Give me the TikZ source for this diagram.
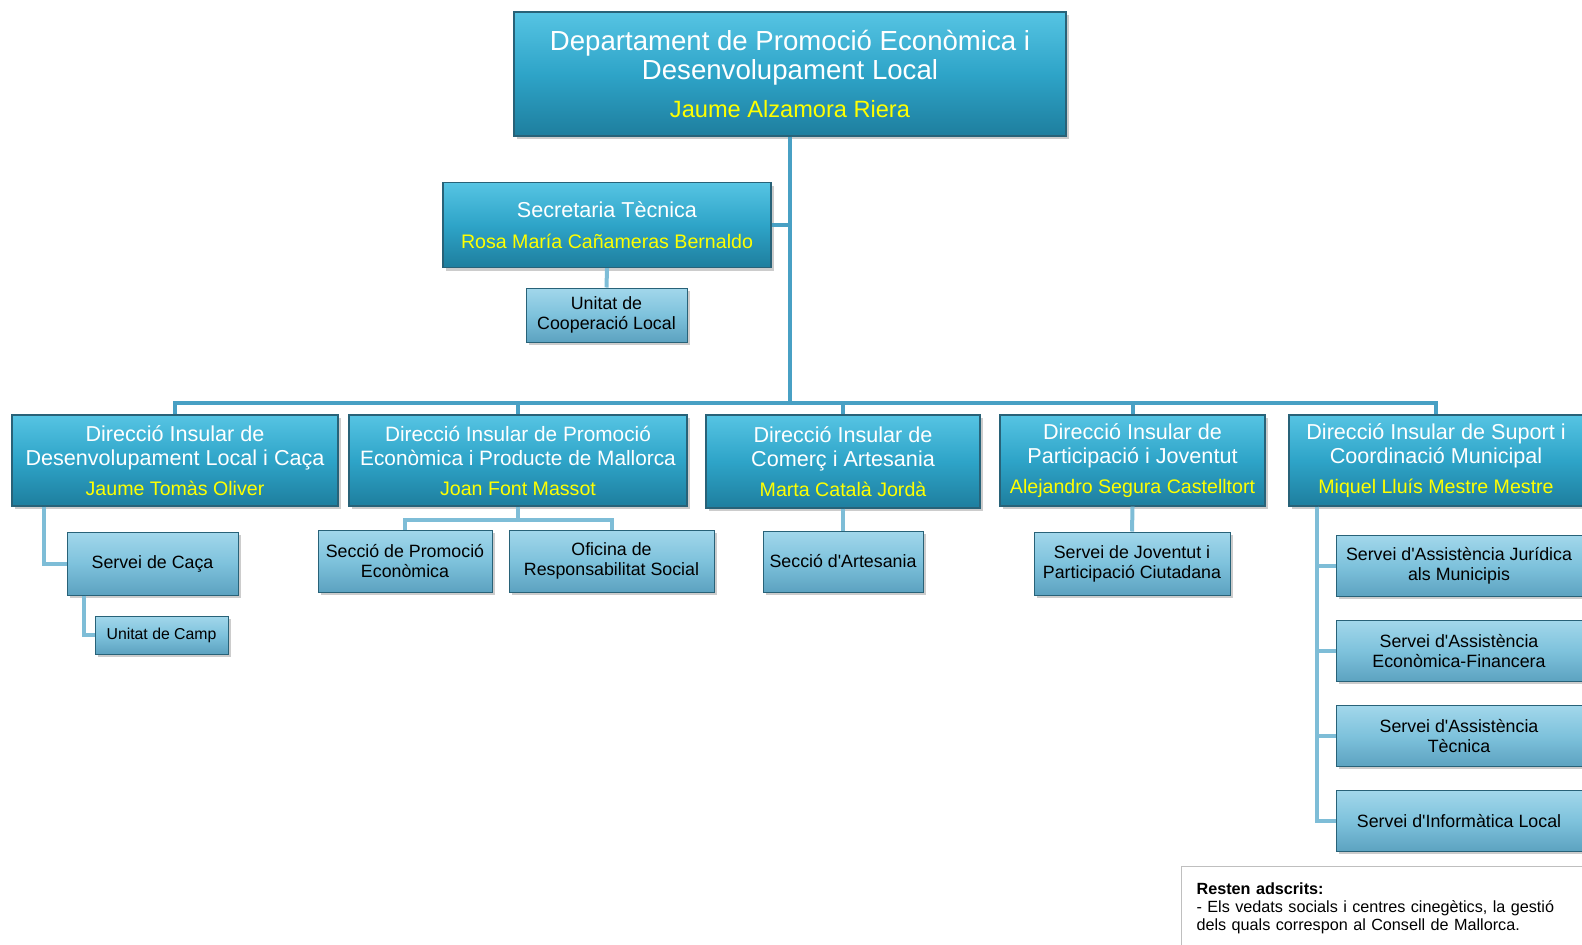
\documentclass[tikz,border=0pt]{standalone}
\usepackage{fontspec}
\setmainfont{Liberation Sans}
\usetikzlibrary{calc,shadows}
\definecolor{captop}{RGB}{86,196,227}
\definecolor{capmid}{RGB}{46,164,200}
\definecolor{capbot}{RGB}{30,126,158}
\definecolor{capvora}{RGB}{40,98,120}
\definecolor{subtop}{RGB}{162,215,235}
\definecolor{submid}{RGB}{126,194,220}
\definecolor{subbot}{RGB}{92,162,192}
\definecolor{linia}{RGB}{72,160,196}
\definecolor{liniaclara}{RGB}{126,189,215}
\definecolor{nomgroc}{RGB}{255,255,0}
\newcommand{\nomcap}[1]{{\color{nomgroc}\fontsize{9.8}{11}\selectfont #1}}
\newcommand{\apos}{\textquotesingle}

\begin{document}
\begin{tikzpicture}[x=0.5pt, y=-0.5pt,
    capbox/.style={draw=capvora, line width=0.6pt, top color=captop, bottom color=capbot, middle color=capmid,
        text=white, align=center, inner sep=0pt, font=\fontsize{10.8}{12}\selectfont,
        drop shadow={opacity=0.4, shadow xshift=1.6pt, shadow yshift=-1.6pt}},
    subbox/.style={draw=capvora, line width=0.5pt, top color=subtop, bottom color=subbot, middle color=submid,
        text=black, align=center, inner sep=0pt, font=\fontsize{8.9}{10}\selectfont,
        drop shadow={opacity=0.4, shadow xshift=1.4pt, shadow yshift=-1.4pt}},
    tronc/.style={draw=linia, line width=2pt},
    branca/.style={draw=liniaclara, line width=2pt}]

    \useasboundingbox (0,0) rectangle (1582,944);

    % Departament
    \node[capbox, minimum width=276pt, minimum height=62pt, font=\fontsize{13.8}{14.5}\selectfont] (dep) at (790,74)
        {Departament de Promoció Econòmica i\\Desenvolupament Local\\[4.5pt]{\color{nomgroc}\fontsize{11.8}{13}\selectfont Jaume Alzamora Riera}};

    % Secretaria
    \node[capbox, minimum width=164pt, minimum height=42.5pt] (sec) at (607,225)
        {Secretaria Tècnica\\[3.5pt]\nomcap{Rosa María Cañameras Bernaldo}};
    \node[subbox, minimum width=80.5pt, minimum height=27pt] (ucl) at (606.5,315)
        {Unitat de\\Cooperació Local};

    % Direccions insulars
    \node[capbox, minimum width=163pt, minimum height=45.5pt] (d1) at (175,460.5)
        {Direcció Insular de\\Desenvolupament Local i Caça\\[3pt]\nomcap{Jaume Tomàs Oliver}};
    \node[capbox, minimum width=169pt, minimum height=45.5pt, font=\fontsize{10.4}{12}\selectfont] (d2) at (518,460.5)
        {Direcció Insular de Promoció\\Econòmica i Producte de Mallorca\\[3pt]\nomcap{Joan Font Massot}};
    \node[capbox, minimum width=137pt, minimum height=46.5pt] (d3) at (843,461.5)
        {Direcció Insular de\\Comerç i Artesania\\[3pt]\nomcap{Marta Català Jordà}};
    \node[capbox, minimum width=132.5pt, minimum height=45.5pt] (d4) at (1132.5,460.5)
        {Direcció Insular de\\Participació i Joventut\\[3pt]\nomcap{Alejandro Segura Castelltort}};
    \node[capbox, minimum width=147pt, minimum height=45.5pt] (d5) at (1436,460.5)
        {Direcció Insular de Suport i\\Coordinació Municipal\\[3pt]\nomcap{Miquel Lluís Mestre Mestre}};

    % Serveis i seccions
    \node[subbox, minimum width=85.5pt, minimum height=31.5pt] (caca) at (152.5,563.5) {Servei de Caça};
    \node[subbox, minimum width=66.5pt, minimum height=19pt, font=\fontsize{7.9}{9}\selectfont] (camp) at (161.5,635) {Unitat de Camp};
    \node[subbox, minimum width=87pt, minimum height=31pt] (spe) at (405,561) {Secció de Promoció\\Econòmica};
    \node[subbox, minimum width=102.5pt, minimum height=31pt] (ors) at (611.5,561) {Oficina de\\Responsabilitat Social};
    \node[subbox, minimum width=80pt, minimum height=30.5pt] (sart) at (843,561.5) {Secció d\apos Artesania};
    \node[subbox, minimum width=98pt, minimum height=31.5pt] (sjov) at (1132,563.5) {Servei de Joventut i\\Participació Ciutadana};
    \node[subbox, minimum width=123pt, minimum height=30.5pt] (s1) at (1459,566) {Servei d\apos Assistència Jurídica\\als Municipis};
    \node[subbox, minimum width=123pt, minimum height=30.5pt] (s2) at (1459,651) {Servei d\apos Assistència\\Econòmica-Financera};
    \node[subbox, minimum width=123pt, minimum height=30.5pt] (s3) at (1459,736) {Servei d\apos Assistència\\Tècnica};
    \node[subbox, minimum width=123pt, minimum height=30.5pt] (s4) at (1459,821) {Servei d\apos Informàtica Local};

    % Nota
    \node[draw=black!25, line width=0.6pt, anchor=north west, text width=195pt, inner xsep=7.5pt, inner ysep=4.5pt,
        minimum height=42pt, align=left, font=\fontsize{8.1}{9}\selectfont] (nota) at (1181,866)
        {\textbf{Resten adscrits:}\\- Els vedats socials i centres cinegètics, la gestió\\dels quals correspon al Consell de Mallorca.};

    % Connexions
    \coordinate (bus) at (790,403);
    \draw[tronc] (dep.south) -- (bus);
    \draw[tronc] (sec.east) -- (sec.east -| dep.south);
    \foreach \d in {d1,d2,d3,d4,d5}
        \draw[tronc] (\d.north) |- (bus);
    \draw[branca] (sec.south) -- (ucl.north);

    \draw[branca] ($(d1.south west)+(33,0)$) |- (caca.west);
    \draw[branca] ($(caca.south west)+(17,0)$) |- (camp.west);

    \coordinate (d2j) at ($(d2.south)+(0,13)$);
    \draw[branca] (d2.south) -- (d2j);
    \draw[branca] (spe.north) |- (d2j) -| (ors.north);

    \draw[branca] (d3.south) -- (sart.north);
    \draw[branca] (d4.south) -- (sjov.north);

    \coordinate (d5l) at ($(d5.south west)+(29,0)$);
    \foreach \s in {s1,s2,s3,s4}
        \draw[branca] (d5l) |- (\s.west);

\end{tikzpicture}
\end{document}
